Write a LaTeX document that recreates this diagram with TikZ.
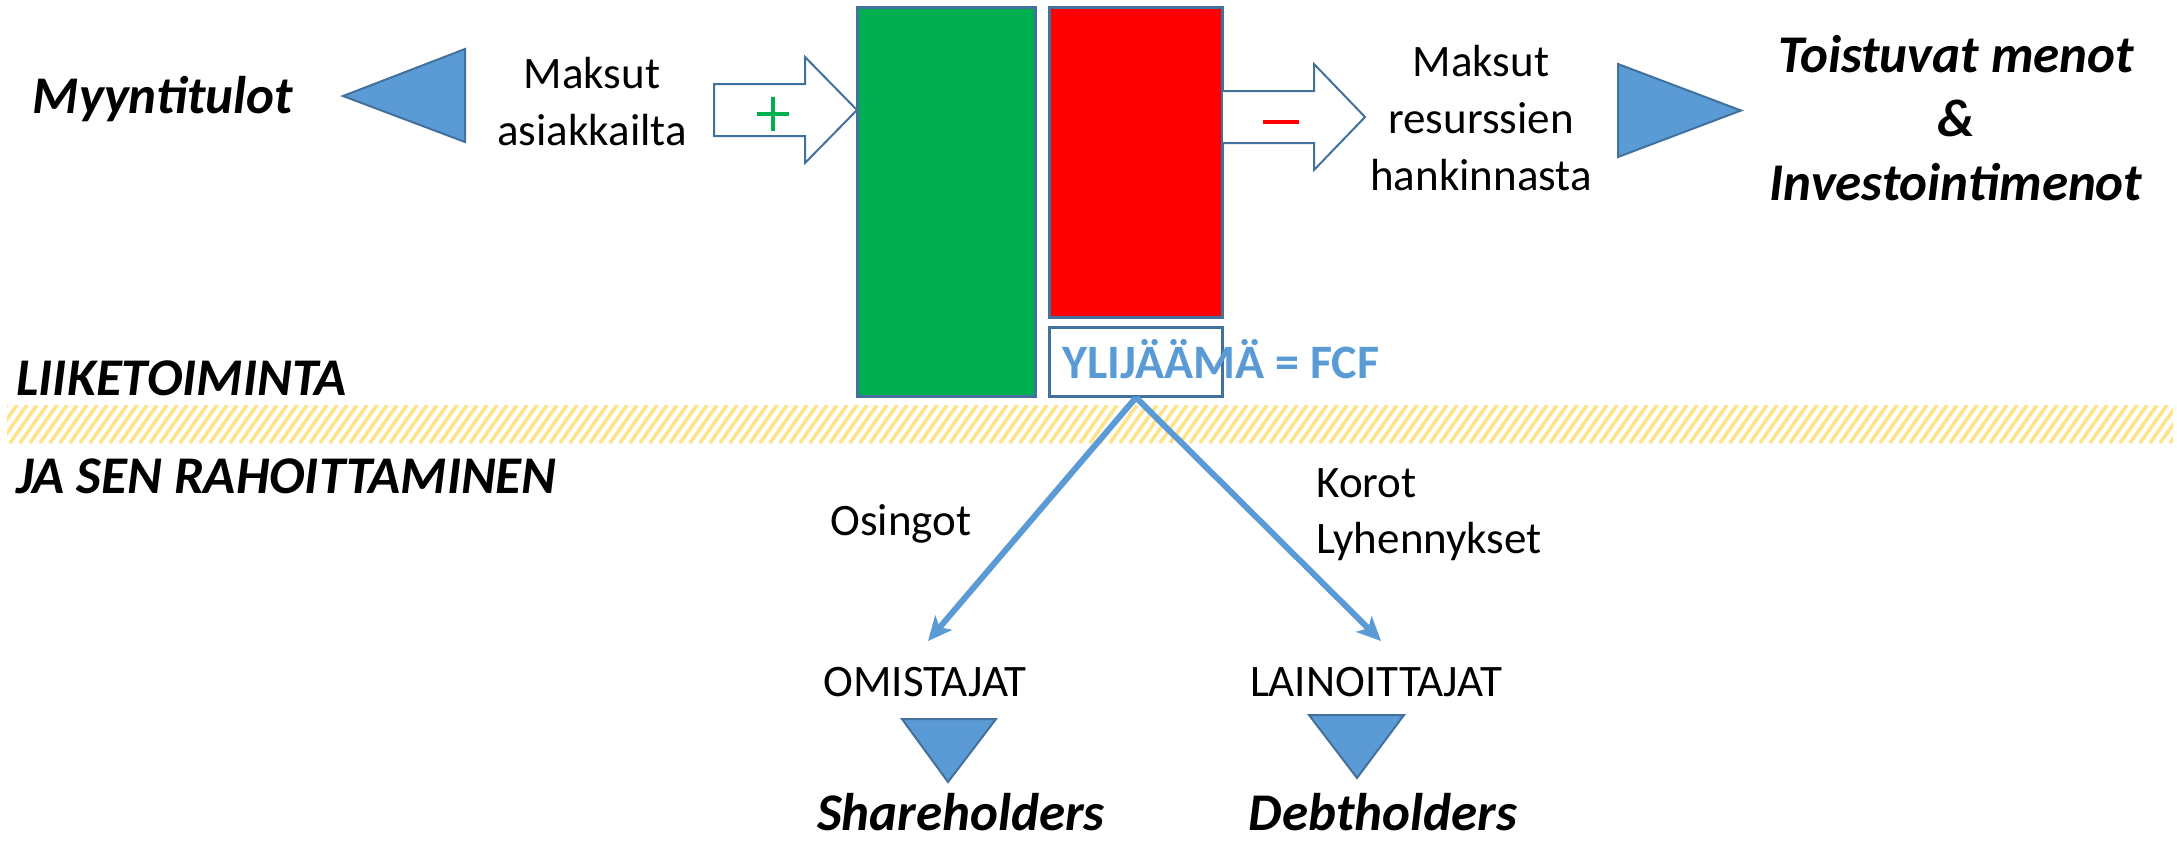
\documentclass[tikz,border=0pt]{standalone}
\usepackage{fontspec}
\setmainfont{Carlito}
\usetikzlibrary{arrows.meta}
\definecolor{triblue}{HTML}{5B9BD5}
\definecolor{edgeblue}{HTML}{41719C}
\definecolor{grn}{HTML}{00B050}
\definecolor{hatchy}{HTML}{FFE38A}
\begin{document}
\begin{tikzpicture}[x=0.5pt,y=-0.5pt,
  reg/.style={font=\fontsize{22.5}{28.5}\selectfont, align=center, inner sep=0pt},
  bi/.style={font=\fontsize{26.5}{32}\selectfont\bfseries\itshape, align=center, inner sep=0pt},
  tri/.style={fill=triblue, draw=edgeblue, line width=1pt},
  blockarrow/.style={fill=white, draw=edgeblue, line width=1pt},
  bar/.style={draw=edgeblue, line width=1.5pt, inner sep=0pt},
  flow/.style={draw=triblue, line width=3pt, -{Stealth[length=12pt,width=11pt,inset=3pt]}}]
\useasboundingbox (0,0) rectangle (2177,842);
% hatched band
\begin{scope}
  \clip (7,405) rectangle (2173,443);
  \foreach \i in {-5,...,220} {
    \draw[hatchy, line width=1.8pt] (\i*10,443) -- ++(27,-38);
  }
\end{scope}
% bars
\node[bar, fill=grn, minimum width=89pt, minimum height=194.5pt] (green) at (946,201.5) {};
\node[bar, fill=red, minimum width=86.75pt, minimum height=155pt] (red) at (1136,162) {};
\node[bar, fill=white, minimum width=86.75pt, minimum height=34.5pt] (box) at (1136,361.5) {};
\node[font=\fontsize{24}{28}\selectfont\bfseries, text=triblue, anchor=base west, inner sep=0pt] (fcf) at (1062,378) {YLIJÄÄMÄ = FCF};
% block arrows
\draw[blockarrow] (714,84) -- (805,84) -- (805,57) -- (857,110) -- (805,163) -- (805,136) -- (714,136) -- cycle;
\draw[blockarrow] (1223,91) -- (1314,91) -- (1314,64) -- (1365,117) -- (1314,170) -- (1314,143) -- (1223,143);
\draw[grn, line width=2.2pt] (757,114) -- (789,114) (773,97) -- (773,131);
\draw[red, line width=2pt] (1263,122) -- (1299,122);
% triangles
\draw[tri] (343,96) -- (465,49) -- (465,142) -- cycle;
\draw[tri] (1618,64) -- (1741,110.5) -- (1618,157) -- cycle;
\draw[tri] (902,719) -- (996,719) -- (948,782) -- cycle;
\draw[tri] (1309,715) -- (1404,715) -- (1357,778) -- cycle;
% texts (multi-line nodes anchored at the baseline of their last line)
\node[bi, anchor=base] (myynti) at (163,113) {Myyntitulot};
\node[reg, anchor=base] (asiak) at (592,145) {Maksut\\asiakkailta};
\node[reg, anchor=base] (resurs) at (1481,190) {Maksut\\resurssien\\hankinnasta};
\node[bi, anchor=base] (menot) at (1956,200) {Toistuvat menot\\\&\\Investointimenot};
\node[bi, anchor=base west] (liike) at (16,395) {LIIKETOIMINTA};
\node[bi, anchor=base west] (rahoit) at (16,493) {JA SEN RAHOITTAMINEN};
\node[reg, anchor=base] (osingot) at (901,535) {Osingot};
\node[reg, anchor=base west, align=left, font=\fontsize{22.5}{28}\selectfont] (korot) at (1316,553) {Korot\\Lyhennykset};
\node[reg, anchor=base] (omist) at (925,696) {OMISTAJAT};
\node[reg, anchor=base] (laino) at (1376,696) {LAINOITTAJAT};
\node[bi, anchor=base] (share) at (961,830) {Shareholders};
\node[bi, anchor=base] (debt) at (1383,830) {Debtholders};
% connectors
\coordinate (omtip) at (928,641);
\coordinate (latip) at (1381,641);
\draw[flow] (box.south) -- (omtip);
\draw[flow] (box.south) -- (latip);
\end{tikzpicture}
\end{document}
